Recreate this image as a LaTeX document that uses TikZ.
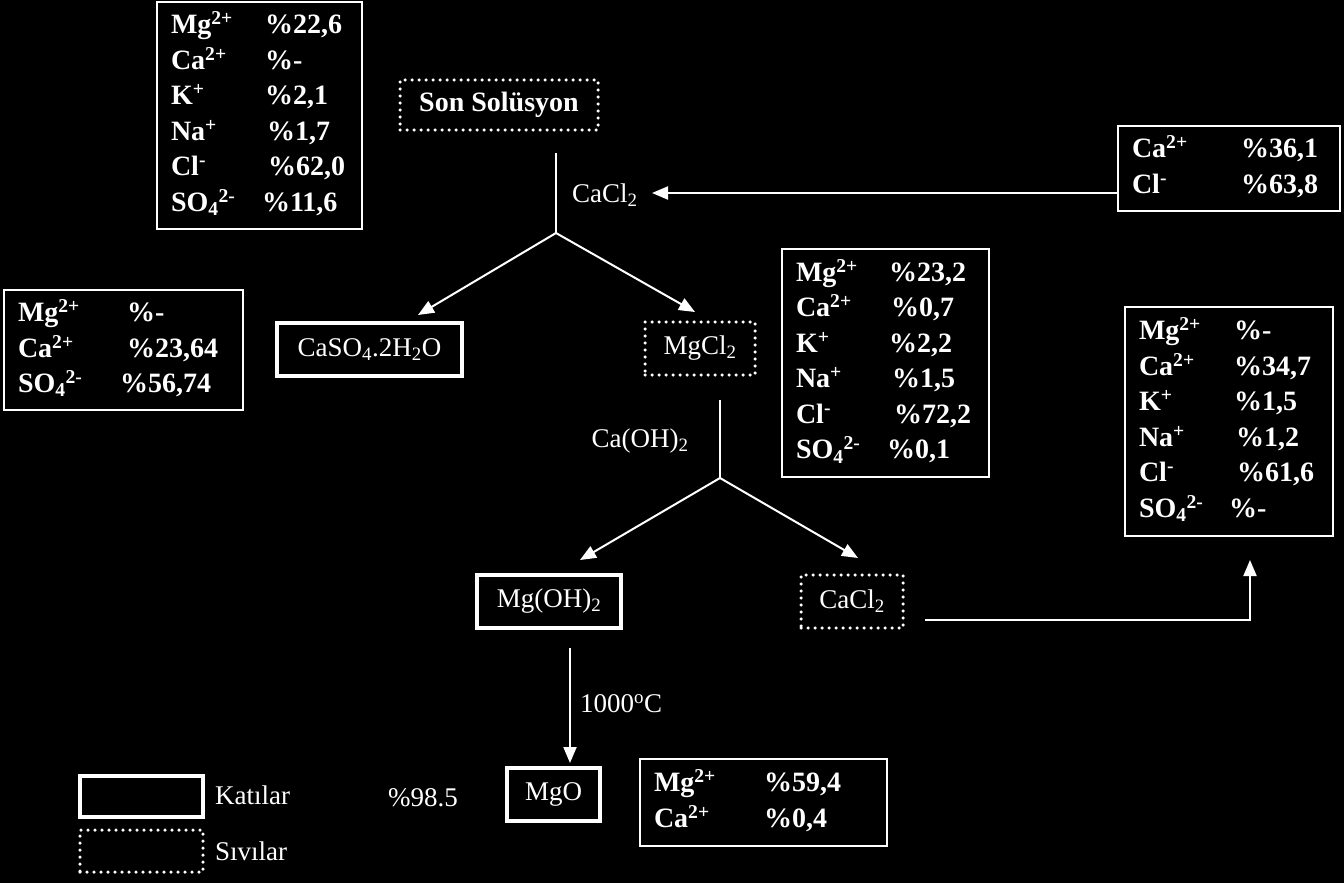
\documentclass[tikz,border=0pt]{standalone}
\usepackage{fontspec}
\setmainfont{Liberation Serif}
\usetikzlibrary{arrows.meta}

\tikzset{
	kati/.style={draw=white, line width=3.5pt, text=white, font=\fontsize{27}{32}\selectfont, inner sep=0pt},
	sivi/.style={draw=white, line width=3.5pt, dash pattern=on 0pt off 7pt, line cap=round, text=white, font=\fontsize{27}{32}\selectfont, inner sep=0pt},
	tablo/.style={draw=white, line width=2pt, text=white, font=\bfseries\fontsize{28}{35.5}\selectfont, align=left, inner xsep=14pt, inner ysep=0pt},
	etiket/.style={text=white, font=\fontsize{27}{32}\selectfont, inner sep=0pt},
	ok/.style={draw=white, line width=2pt, -{Triangle[length=16pt,width=13pt]}},
	cizgi/.style={draw=white, line width=2pt},
}

\begin{document}
\begin{tikzpicture}[x=1pt, y=-1pt]
	%%%%% START %%%%%
	
	\fill[black] (0, 0) rectangle (1344, 883);
	\useasboundingbox (0, 0) rectangle (1344, 883);
	
	\node[sivi, minimum width=198, minimum height=50] (sonsol) at (499, 105) {\bfseries\fontsize{28}{32}\selectfont Son Solüsyon};
	
	\node[tablo, text width=177, minimum height=227] (tbl1) at (259.5, 115.5) {%
		\begin{tabular}{@{}p{94pt}@{}l@{}}
		Mg\textsuperscript{2+} & \%22,6 \\
		Ca\textsuperscript{2+} & \%- \\
		K\textsuperscript{+} & \%2,1 \\
		Na\textsuperscript{+} & \hspace*{2pt}\%1,7 \\
		Cl\textsuperscript{-} & \hspace*{3pt}\%62,0 \\
		SO\textsubscript{4}\textsuperscript{2-} & \hspace*{-3pt}\%11,6
		\end{tabular}};
	
	\node[tablo, text width=194, minimum height=85] (tbl6) at (1229, 168.5) {%
		\begin{tabular}{@{}p{109pt}@{}l@{}}
		Ca\textsuperscript{2+} & \%36,1 \\
		Cl\textsuperscript{-} & \%63,8
		\end{tabular}};
	
	\node[etiket, anchor=west] (lbl1) at (572, 195) {CaCl\textsubscript{2}};
	
	\node[kati, minimum width=185, minimum height=53] (cas) at (369.5, 349.5) {CaSO\textsubscript{4}.2H\textsubscript{2}O};
	\node[sivi, minimum width=110, minimum height=53] (mgcl) at (700, 348.5) {MgCl\textsubscript{2}};
	
	\node[tablo, text width=211, minimum height=120] (tbl2) at (123.5, 350) {%
		\begin{tabular}{@{}p{109pt}@{}l@{}}
		Mg\textsuperscript{2+} & \%- \\
		Ca\textsuperscript{2+} & \%23,64 \\
		SO\textsubscript{4}\textsuperscript{2-} & \hspace*{-7pt}\%56,74
		\end{tabular}};
	
	\node[tablo, text width=179, minimum height=228] (tbl3) at (885.5, 363) {%
		\begin{tabular}{@{}p{93pt}@{}l@{}}
		Mg\textsuperscript{2+} & \%23,2 \\
		Ca\textsuperscript{2+} & \hspace*{2pt}\%0,7 \\
		K\textsuperscript{+} & \%2,2 \\
		Na\textsuperscript{+} & \hspace*{3pt}\%1,5 \\
		Cl\textsuperscript{-} & \hspace*{5pt}\%72,2 \\
		SO\textsubscript{4}\textsuperscript{2-} & \hspace*{-2pt}\%0,1
		\end{tabular}};
	
	\node[etiket] (lbl2) at (640, 441) {Ca(OH)\textsubscript{2}};
	
	\node[kati, minimum width=144, minimum height=53] (moh) at (549, 601.5) {Mg(OH)\textsubscript{2}};
	\node[sivi, minimum width=102, minimum height=53] (cacl) at (852, 601.5) {CaCl\textsubscript{2}};
	
	\node[tablo, text width=180, minimum height=229] (tbl4) at (1229, 421.5) {%
		\begin{tabular}{@{}p{95pt}@{}l@{}}
		Mg\textsuperscript{2+} & \%- \\
		Ca\textsuperscript{2+} & \%34,7 \\
		K\textsuperscript{+} & \%1,5 \\
		Na\textsuperscript{+} & \hspace*{2pt}\%1,2 \\
		Cl\textsuperscript{-} & \hspace*{3pt}\%61,6 \\
		SO\textsubscript{4}\textsuperscript{2-} & \hspace*{-5pt}\%-
		\end{tabular}};
	
	\node[etiket, anchor=west] (lbl3) at (580, 704) {1000\textsuperscript{o}C};
	
	\node[kati, minimum width=93, minimum height=53] (mgo) at (553.5, 794.5) {MgO};
	\node[etiket] (lbl4) at (423, 798) {\%98.5};
	
	\node[tablo, text width=219, minimum height=87] (tbl5) at (763.5, 802.5) {%
		\begin{tabular}{@{}p{110pt}@{}l@{}}
		Mg\textsuperscript{2+} & \%59,4 \\
		Ca\textsuperscript{2+} & \%0,4
		\end{tabular}};
	
	\node[kati, minimum width=123, minimum height=41] (lgkati) at (141.5, 796.5) {};
	\node[etiket, anchor=west] (lgkatiy) at (215, 795) {Katılar};
	\node[sivi, minimum width=123, minimum height=42] (lgsivi) at (141.5, 851) {};
	\node[etiket, anchor=west] (lgsiviy) at (215, 851) {Sıvılar};
	
	\coordinate (j1ust) at (556, 153);
	\coordinate (j1) at (556, 233);
	\coordinate (j1sol) at (418, 315);
	\coordinate (j1sag) at (695, 312);
	\coordinate (clok) at (652, 193);
	
	\coordinate (j2ust) at (720, 400);
	\coordinate (j2) at (720, 478);
	\coordinate (j2sol) at (580, 560);
	\coordinate (j2sag) at (858, 558);
	
	\coordinate (caclcik) at (925, 620);
	\coordinate (tbl4alt) at (1250, 560);
	\coordinate (mohalt) at (570, 648);
	\coordinate (mgoust) at (570, 763);
	
	\draw[cizgi] (j1ust) -- (j1);
	\draw[ok] (j1) -- (j1sol);
	\draw[ok] (j1) -- (j1sag);
	\draw[ok] (clok -| tbl6.west) -- (clok);
	
	\draw[cizgi] (j2ust) -- (j2);
	\draw[ok] (j2) -- (j2sol);
	\draw[ok] (j2) -- (j2sag);
	
	\draw[ok] (caclcik) -| (tbl4alt);
	\draw[ok] (mohalt) -- (mgoust);
	
	%%%%% END %%%%%
\end{tikzpicture}
\end{document}
